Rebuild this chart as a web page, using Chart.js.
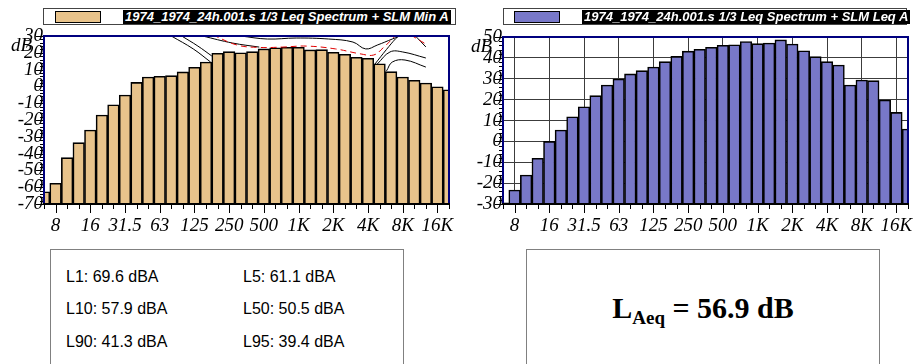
<!DOCTYPE html>
<html>
<head>
<meta charset="utf-8">
<script src="https://cdn.jsdelivr.net/npm/chart.js@4.4.0/dist/chart.umd.min.js"></script>
<style>
body{margin:0;width:919px;height:364px;background:#fff;position:relative;overflow:hidden;font-family:"Liberation Sans",Arial,sans-serif}
canvas{position:absolute;top:0}
.leg{position:absolute;top:8px;height:17px;border:1px solid #444;background:#fff;box-sizing:border-box}
.sw{position:absolute;top:2px;width:46px;height:12px;border:1px solid #000;box-sizing:border-box}
.lt{position:absolute;top:1px;height:14px;background:#000;color:#fff;font:italic bold 13px "Liberation Sans";line-height:14px;white-space:nowrap;padding:0 2px}
.db{position:absolute;font:italic 19px "Liberation Serif";line-height:19px}
.box{position:absolute;top:249px;height:140px;border:1px solid #808080;box-sizing:border-box}
.stat{position:absolute;font:16px "Liberation Sans";line-height:18px;white-space:nowrap}
.laeq{position:absolute;left:526px;width:354px;top:291px;text-align:center;font:bold 30px "Liberation Serif";line-height:34px}
.laeq sub{font-size:19px;vertical-align:-6px;line-height:0}
</style>
</head>
<body>
<canvas id="minChart" width="460" height="240" style="left:0"></canvas>
<canvas id="leqChart" width="459" height="240" style="left:460px"></canvas>

<div class="leg" style="left:43px;width:413px"><div class="sw" style="left:11px;background:#e8c38b"></div><div class="lt" style="left:79px">1974_1974_24h.001.s 1/3 Leq Spectrum + SLM Min A</div></div>
<div class="leg" style="left:503px;width:404px"><div class="sw" style="left:10px;background:#7878c8"></div><div class="lt" style="left:78px">1974_1974_24h.001.s 1/3 Leq Spectrum + SLM Leq A</div></div>
<div class="db" style="left:11px;top:35px">dB</div>
<div class="db" style="left:471px;top:36px">dB</div>

<div class="box" style="left:50px;width:354px"></div>
<div class="box" style="left:526px;width:354px"></div>
<div class="stat" style="left:66px;top:268px">L1: 69.6 dBA</div>
<div class="stat" style="left:243px;top:268px">L5: 61.1 dBA</div>
<div class="stat" style="left:66px;top:300px">L10: 57.9 dBA</div>
<div class="stat" style="left:243px;top:300px">L50: 50.5 dBA</div>
<div class="stat" style="left:66px;top:333px">L90: 41.3 dBA</div>
<div class="stat" style="left:243px;top:333px">L95: 39.4 dBA</div>
<div class="laeq">L<sub>Aeq</sub> = 56.9 dB</div>

<script>
// 1/3 octave bands, 6.3 Hz .. 20 kHz
const bands = ['6.3','8','10','12.5','16','20','25','31.5','40','50','63','80','100','125','160','200',
  '250','315','400','500','630','800','1K','1.25K','1.6K','2K','2.5K','3.15K','4K','5K','6.3K','8K',
  '10K','12.5K','16K','20K'];
const octaveLabels = ['8','16','31.5','63','125','250','500','1K','2K','4K','8K','16K'];

// SLM Min A spectrum (dB)
const minValues = [-62.7, -57.7, -42.4, -33.5, -26, -17, -10.9, -5.1, 2.4, 5.6, 6.0, 6.4, 8.6, 11.4, 14.5, 19.7,
  20.7, 20.0, 20.7, 22.3, 23.0, 23.3, 23.3, 21.7, 21.9, 20.3, 19.1, 17.3, 16.7, 13.5, 8.8, 5.6,
  3.6, 2.0, -0.2, -2.0];
// SLM Leq A spectrum (dB)
const leqValues = [-29.4, -23.3, -16.1, -8.1, 0, 5.4, 11.8, 16.6, 21.9, 27, 29.9, 32.3, 33.9, 35.6, 38.2, 40.7,
  43.2, 44.1, 45.1, 46, 46.3, 47.8, 46.8, 47.1, 48.6, 46.6, 43.4, 40.6, 38.2, 36.6, 27, 29.4,
  29.1, 19.8, 13.9, 5.9];

// reference curves over the min spectrum (band index, dB)
const curveRed = [{x:14.6,y:30.6},{x:16.7,y:24.6},{x:18.6,y:23.2},{x:20.6,y:23.4},{x:22.7,y:24},
  {x:25.2,y:22.3},{x:27.4,y:19.3},{x:28.5,y:18.7},{x:29.3,y:22.9},{x:30,y:27.6},{x:30.5,y:31.2}];
const curveRed2 = [{x:31.7,y:30.6},{x:33,y:25.2}];
const curveA = [{x:11,y:30},{x:12.9,y:22.3},{x:14.4,y:14.5}];
const curveB = [{x:11.9,y:30},{x:13.3,y:24},{x:14.5,y:18.1}];
const curveC = [{x:13.7,y:30},{x:16.3,y:25.8},{x:18.6,y:23.4}];
const curveD = [{x:17,y:30},{x:19.3,y:28.2},{x:21.8,y:28.8},{x:24.6,y:28.2},{x:26.7,y:26.4},{x:27.8,y:22.3},
  {x:28.8,y:24.6},{x:30.1,y:28.2},{x:31.2,y:31.2}];
const curveE = [{x:28.6,y:13.3},{x:29.6,y:22},{x:30.4,y:28.5},{x:30.8,y:31}];
const curveF = [{x:28.8,y:13.3},{x:29.9,y:20.5},{x:31,y:20.5},{x:33,y:16.9}];
const curveG = [{x:29.6,y:9.2},{x:30.1,y:14.5},{x:31.2,y:15.7},{x:33,y:11.5}];
const curveH = [{x:32.1,y:30},{x:33,y:23.5}];

const tickFont = {family: '"Liberation Serif", serif', size: 19, style: 'italic'};

// minor/major tick marks and the plot frame
const frame = {
  id: 'frame',
  afterDraw(chart) {
    const {ctx, chartArea: a, scales: {x, y}} = chart;
    ctx.save();
    ctx.strokeStyle = '#000';
    ctx.lineWidth = 1;
    ctx.beginPath();
    for (let v = y.min; v <= y.max; v += 2) {
      const py = Math.round(y.getPixelForValue(v)) + 0.5;
      const len = v % 10 === 0 ? 8 : 4;
      ctx.moveTo(a.left - len, py);
      ctx.lineTo(a.left, py);
    }
    for (let i = 0; i < bands.length; i++) {
      const px = Math.round(x.getPixelForValue(i)) + 0.5;
      const len = octaveLabels.includes(bands[i]) ? 9 : 5;
      ctx.moveTo(px, a.bottom);
      ctx.lineTo(px, a.bottom + len);
    }
    ctx.stroke();
    ctx.lineWidth = 2;
    ctx.strokeStyle = '#00007f';
    ctx.beginPath();
    ctx.moveTo(a.left, a.bottom);
    ctx.lineTo(a.left, a.top);
    ctx.lineTo(a.right, a.top);
    ctx.lineTo(a.right, a.bottom);
    ctx.stroke();
    ctx.strokeStyle = '#000';
    ctx.beginPath();
    ctx.moveTo(a.left - 1, a.bottom);
    ctx.lineTo(a.right + 1, a.bottom);
    ctx.stroke();
    ctx.restore();
  }
};

function lineSet(data, color, dash) {
  return {type: 'line', data: data, borderColor: color, borderWidth: 1, borderDash: dash || [],
    pointRadius: 0, tension: 0.4, fill: false, clip: 0};
}

function makeChart(id, values, color, yMin, yMax, yWidth, padTop, padRight, showGrid, extra) {
  return new Chart(document.getElementById(id), {
    type: 'bar',
    data: {
      datasets: [{
        data: values.map((v, i) => ({x: i, y: v})),
        base: yMin,
        backgroundColor: color,
        borderColor: '#000',
        borderWidth: 1.6,
        borderSkipped: 'bottom',
        barPercentage: 1,
        categoryPercentage: 1,
        clip: 0,
        order: 2
      }].concat(extra)
    },
    options: {
      responsive: false,
      animation: false,
      events: [],
      layout: {padding: {top: padTop, right: padRight, left: 0, bottom: 0}},
      plugins: {legend: {display: false}, tooltip: {enabled: false}},
      scales: {
        x: {
          type: 'linear',
          min: 0,
          max: bands.length - 1,
          offset: false,
          border: {display: false},
          grid: {
            display: showGrid,
            offset: false,
            drawTicks: false,
            color: c => octaveLabels.includes(bands[c.tick.value]) ? '#3c3c3c' : 'rgba(0,0,0,0)'
          },
          ticks: {
            stepSize: 1,
            autoSkip: false,
            maxRotation: 0,
            padding: 11,
            color: '#000',
            font: tickFont,
            callback: v => octaveLabels.includes(bands[v]) ? bands[v] : ''
          },
          afterFit: s => { s.height = 36; }
        },
        y: {
          min: yMin,
          max: yMax,
          border: {display: false},
          grid: {display: showGrid, drawTicks: false, color: '#3c3c3c'},
          ticks: {stepSize: 10, autoSkip: false, padding: 1, color: '#000', font: tickFont},
          afterFit: s => { s.width = yWidth; }
        }
      }
    },
    plugins: [frame]
  });
}

makeChart('minChart', minValues, '#e8c38b', -70, 30, 44, 36, 5, false, [
  lineSet(curveRed, '#e00000', [6, 4]),
  lineSet(curveRed2, '#e00000', [6, 4]),
  lineSet(curveA, '#000'), lineSet(curveB, '#000'), lineSet(curveC, '#000'), lineSet(curveD, '#000'),
  lineSet(curveE, '#000'), lineSet(curveF, '#000'), lineSet(curveG, '#000'), lineSet(curveH, '#000')
]);
makeChart('leqChart', leqValues, '#7878c8', -30, 50, 43, 37, 6, true, []);
</script>
</body>
</html>
